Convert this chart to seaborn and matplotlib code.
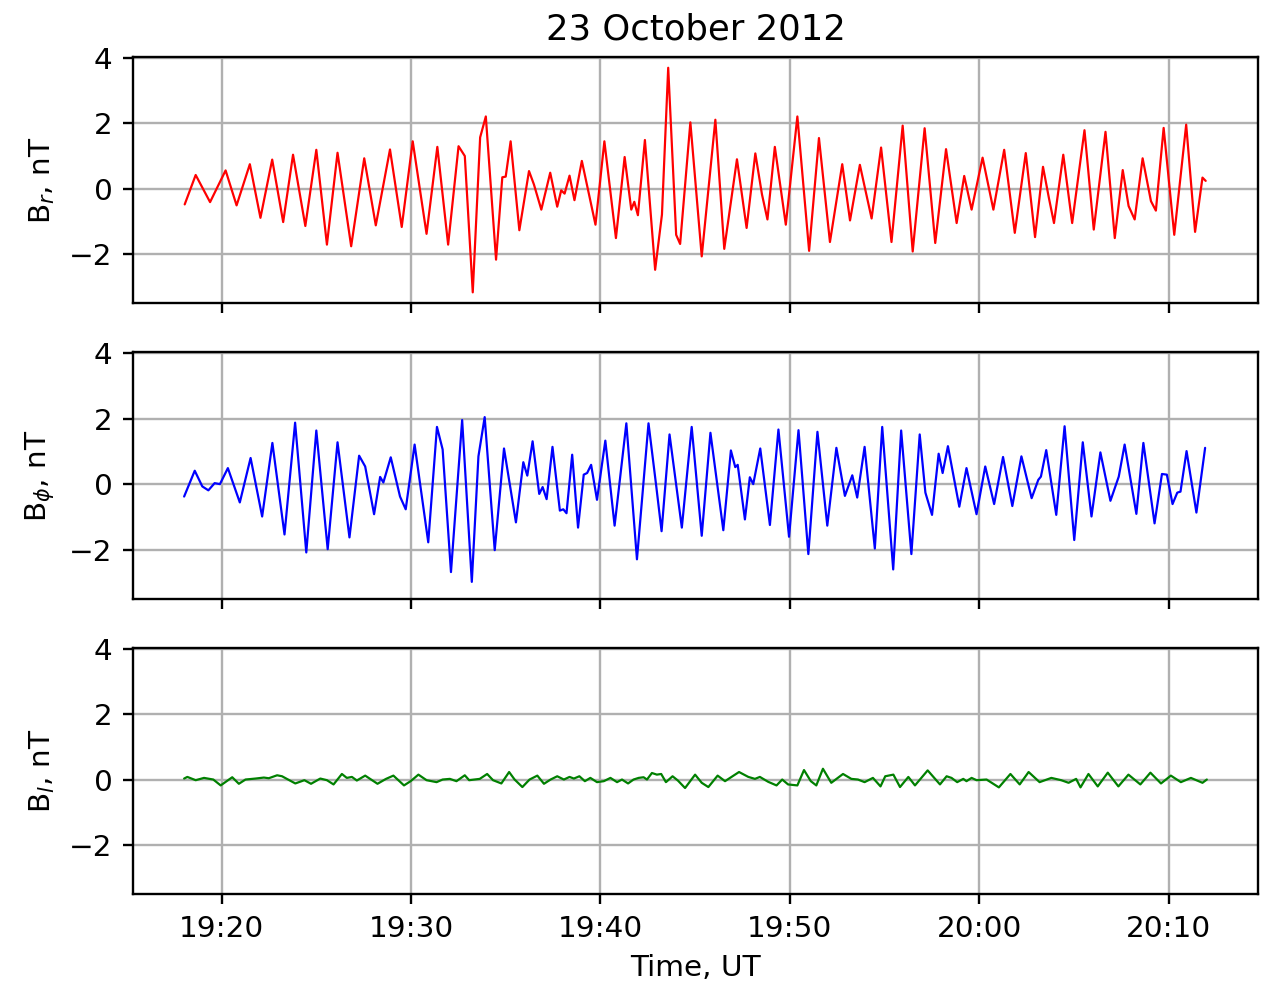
import numpy as np
import pandas as pd
import matplotlib
matplotlib.use("Agg")
import matplotlib.pyplot as plt
import matplotlib.dates as mdates
import seaborn as sns

# Magnetic field components (nT); time given in minutes after 19:00 UT, 23 Oct 2012
br_minutes = [18.05, 18.63, 19.39, 20.21, 20.79, 21.49, 22.05, 22.67, 23.25, 23.77,
              24.42, 25.00, 25.56, 26.12, 26.84, 27.53, 28.14, 28.89, 29.51, 30.09,
              30.82, 31.39, 31.96, 32.51, 32.84, 33.26, 33.65, 33.95, 34.49, 34.82,
              35.00, 35.26, 35.72, 36.23, 36.49, 36.88, 37.35, 37.72, 37.93, 38.11,
              38.37, 38.63, 39.02, 39.74, 40.21, 40.82, 41.28, 41.63, 41.79, 41.98,
              42.35, 42.89, 43.25, 43.58, 44.00, 44.21, 44.75, 45.35, 46.07, 46.54,
              47.21, 47.72, 48.18, 48.53, 48.82, 49.21, 49.79, 50.40, 51.02, 51.54,
              52.12, 52.77, 53.18, 53.70, 54.32, 54.82, 55.37, 55.96, 56.49, 57.12,
              57.68, 58.25, 58.81, 59.21, 59.60, 60.18, 60.75, 61.32, 61.88, 62.46,
              62.95, 63.37, 63.68, 63.95, 64.44, 64.91, 65.56, 66.05, 66.67, 67.16,
              67.58, 67.89, 68.21, 68.63, 69.07, 69.33, 69.74, 70.30, 70.93, 71.40,
              71.79, 71.96]
br_values = [-0.48, 0.42, -0.41, 0.56, -0.51, 0.75, -0.89, 0.89, -1.02, 1.04,
             -1.14, 1.19, -1.71, 1.10, -1.76, 0.93, -1.12, 1.20, -1.17, 1.45,
             -1.38, 1.28, -1.71, 1.30, 1.00, -3.17, 1.57, 2.21, -2.17, 0.35,
             0.37, 1.45, -1.27, 0.54, 0.13, -0.64, 0.49, -0.55, -0.05, -0.15,
             0.40, -0.35, 0.85, -1.10, 1.45, -1.51, 0.97, -0.64, -0.40, -0.81,
             1.49, -2.48, -0.79, 3.70, -1.41, -1.69, 2.03, -2.07, 2.11, -1.84,
             0.90, -1.20, 1.08, -0.17, -0.94, 1.28, -1.10, 2.21, -1.90, 1.55,
             -1.63, 0.75, -0.97, 0.73, -0.91, 1.26, -1.63, 1.93, -1.92, 1.85,
             -1.66, 1.21, -1.05, 0.39, -0.64, 0.95, -0.64, 1.19, -1.35, 1.09,
             -1.48, 0.67, -0.28, -1.05, 1.04, -1.05, 1.79, -1.25, 1.74, -1.51,
             0.57, -0.53, -0.94, 0.93, -0.38, -0.67, 1.86, -1.41, 1.96, -1.32,
             0.34, 0.24]

bphi_minutes = [18.02, 18.58, 18.98, 19.30, 19.63, 19.91, 20.33, 20.96, 21.53, 22.14,
                22.68, 23.32, 23.88, 24.47, 25.00, 25.60, 26.12, 26.75, 27.26, 27.58,
                28.05, 28.37, 28.54, 28.93, 29.42, 29.72, 30.19, 30.91, 31.37, 31.67,
                32.11, 32.70, 33.21, 33.56, 33.89, 34.42, 34.91, 35.54, 35.93, 36.14,
                36.42, 36.77, 36.95, 37.16, 37.47, 37.86, 38.04, 38.21, 38.51, 38.82,
                39.12, 39.30, 39.51, 39.82, 40.26, 40.75, 41.37, 41.93, 42.54, 42.95,
                43.23, 43.65, 44.30, 44.82, 45.35, 45.81, 46.49, 46.89, 47.12, 47.25,
                47.63, 47.89, 48.07, 48.44, 48.95, 49.40, 49.96, 50.46, 50.98, 51.46,
                51.98, 52.46, 52.91, 53.30, 53.56, 53.95, 54.49, 54.88, 55.46, 55.88,
                56.42, 56.86, 57.16, 57.51, 57.86, 58.07, 58.35, 58.95, 59.33, 59.86,
                60.32, 60.79, 61.26, 61.75, 62.23, 62.77, 63.12, 63.26, 63.54, 64.07,
                64.51, 65.02, 65.47, 65.93, 66.40, 66.93, 67.37, 67.68, 68.30, 68.67,
                69.26, 69.65, 69.91, 70.21, 70.46, 70.63, 70.95, 71.47, 71.93]
bphi_values = [-0.38, 0.41, -0.07, -0.19, 0.03, 0.00, 0.49, -0.56, 0.80, -0.99,
               1.26, -1.54, 1.88, -2.09, 1.64, -1.99, 1.28, -1.63, 0.87, 0.54,
               -0.92, 0.22, 0.05, 0.82, -0.38, -0.77, 1.21, -1.78, 1.75, 1.06,
               -2.69, 1.96, -2.99, 0.85, 2.05, -2.02, 1.09, -1.17, 0.67, 0.26,
               1.31, -0.30, -0.09, -0.46, 1.14, -0.81, -0.77, -0.89, 0.90, -1.33,
               0.29, 0.34, 0.59, -0.48, 1.33, -1.27, 1.86, -2.30, 1.86, -0.07,
               -1.44, 1.52, -1.33, 1.75, -1.58, 1.57, -1.41, 1.03, 0.52, 0.59,
               -1.08, 0.21, 0.00, 1.09, -1.25, 1.67, -1.61, 1.65, -2.14, 1.60,
               -1.27, 1.11, -0.36, 0.27, -0.41, 1.14, -1.97, 1.75, -2.61, 1.64,
               -2.14, 1.52, -0.26, -0.94, 0.93, 0.34, 1.16, -0.69, 0.49, -0.92,
               0.54, -0.61, 0.83, -0.67, 0.85, -0.43, 0.13, 0.23, 1.04, -0.94,
               1.77, -1.71, 1.28, -0.99, 0.97, -0.51, 0.23, 1.21, -0.91, 1.26,
               -1.20, 0.31, 0.29, -0.61, -0.26, -0.23, 1.01, -0.87, 1.11]

bl_minutes = [18.02, 18.19, 18.63, 19.07, 19.56, 19.95, 20.56, 20.91, 21.26, 21.79,
              22.23, 22.49, 22.93, 23.19, 23.89, 24.37, 24.72, 25.21, 25.56, 25.91,
              26.35, 26.61, 26.88, 27.14, 27.58, 27.84, 28.23, 28.68, 29.07, 29.63,
              29.98, 30.39, 30.82, 31.35, 31.67, 32.05, 32.40, 32.84, 33.07, 33.37,
              33.63, 34.02, 34.33, 34.77, 35.18, 35.47, 35.88, 36.26, 36.67, 37.02,
              37.37, 37.72, 38.07, 38.37, 38.60, 38.89, 39.18, 39.47, 39.82, 40.18,
              40.53, 40.88, 41.14, 41.46, 41.75, 42.02, 42.28, 42.46, 42.72, 42.98,
              43.21, 43.46, 43.81, 44.09, 44.47, 45.00, 45.35, 45.70, 46.19, 46.58,
              47.32, 47.81, 48.16, 48.42, 48.86, 49.30, 49.60, 49.91, 50.40, 50.75,
              51.11, 51.40, 51.75, 52.19, 52.81, 53.25, 53.60, 53.95, 54.39, 54.79,
              55.04, 55.47, 55.82, 56.26, 56.61, 57.28, 57.93, 58.28, 58.54, 58.84,
              59.16, 59.33, 59.60, 59.86, 60.39, 61.04, 61.65, 62.14, 62.61, 63.19,
              63.81, 64.33, 64.72, 65.12, 65.35, 65.77, 66.26, 66.79, 67.35, 67.88,
              68.51, 69.04, 69.60, 70.12, 70.65, 71.18, 71.79, 72.02]
bl_values = [0.03, 0.08, -0.02, 0.05, 0.00, -0.18, 0.07, -0.13, 0.00, 0.03,
             0.06, 0.04, 0.13, 0.10, -0.12, -0.02, -0.13, 0.03, -0.02, -0.15,
             0.17, 0.05, 0.08, -0.03, 0.12, 0.02, -0.13, 0.02, 0.12, -0.18,
             -0.05, 0.15, -0.02, -0.08, 0.00, 0.02, -0.05, 0.13, -0.02, 0.00,
             0.02, 0.17, -0.02, -0.12, 0.23, 0.00, -0.23, 0.00, 0.12, -0.13,
             0.00, 0.10, 0.00, 0.08, 0.03, 0.10, -0.05, 0.05, -0.08, -0.05,
             0.05, -0.08, 0.00, -0.12, 0.00, 0.05, 0.07, 0.00, 0.20, 0.15,
             0.17, -0.08, 0.10, -0.03, -0.26, 0.15, -0.10, -0.23, 0.12, -0.05,
             0.23, 0.08, 0.02, 0.08, -0.07, -0.18, 0.00, -0.15, -0.18, 0.29,
             -0.05, -0.18, 0.33, -0.10, 0.17, 0.02, 0.00, -0.08, 0.05, -0.21,
             0.10, 0.15, -0.23, 0.08, -0.18, 0.28, -0.15, 0.10, 0.05, -0.08,
             0.02, -0.05, 0.05, -0.02, 0.00, -0.24, 0.17, -0.15, 0.23, -0.08,
             0.05, -0.02, -0.10, 0.02, -0.24, 0.17, -0.21, 0.21, -0.21, 0.15,
             -0.15, 0.21, -0.12, 0.12, -0.08, 0.05, -0.10, 0.00]

base_time = pd.Timestamp("2012-10-23 19:00:00")


def to_frame(minutes, values):
    return pd.DataFrame({
        "time": base_time + pd.to_timedelta(np.asarray(minutes), unit="m"),
        "value": values,
    })


panels = [
    (to_frame(br_minutes, br_values), "red", r"B$_r$, nT"),
    (to_frame(bphi_minutes, bphi_values), "blue", r"B$_\phi$, nT"),
    (to_frame(bl_minutes, bl_values), "green", r"B$_l$, nT"),
]

dpi = 212
fig, axes = plt.subplots(3, 1, sharex=True, figsize=(1269 / dpi, 989 / dpi), dpi=dpi)
fig.subplots_adjust(left=0.1048, right=0.9913, bottom=0.0961, top=0.9424, hspace=0.2)

for ax, (df, color, label) in zip(axes, panels):
    sns.lineplot(data=df, x="time", y="value", color=color, linewidth=0.75,
                 solid_joinstyle="round", solid_capstyle="round", ax=ax)
    ax.set_ylim(-3.5, 4.03)
    ax.set_yticks([-2, 0, 2, 4])
    ax.set_ylabel(label)
    ax.set_xlabel("")
    ax.grid(True, color="#b0b0b0", linewidth=0.8)
    ax.set_axisbelow(True)

axes[-1].xaxis.set_major_locator(mdates.MinuteLocator(byminute=[0, 10, 20, 30, 40, 50]))
axes[-1].xaxis.set_major_formatter(mdates.DateFormatter("%H:%M"))
axes[-1].set_xlabel("Time, UT")
axes[0].set_title("23 October 2012")

fig.savefig("out.png", dpi=dpi)
